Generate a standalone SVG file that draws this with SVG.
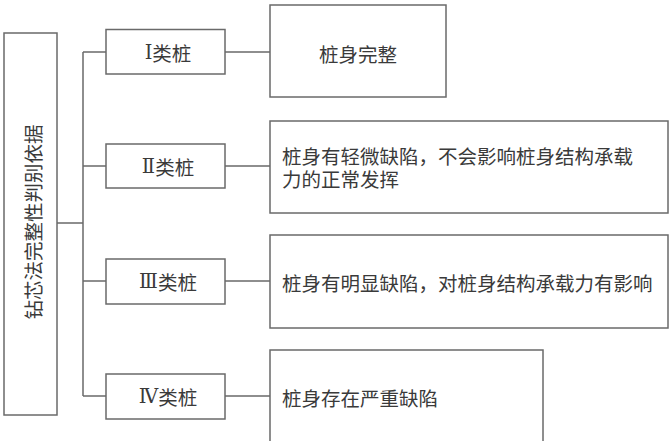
<svg xmlns="http://www.w3.org/2000/svg" width="669" height="441" viewBox="0 0 669 441">
<style>
.box{fill:#fff;stroke:#6a6a6a;stroke-width:1.5}
.ln{fill:none;stroke:#6a6a6a;stroke-width:1.5}
.t{font-family:"Noto Sans CJK SC","Noto Sans",sans-serif;font-size:19.5px;fill:#3a3a3a}
.c{text-anchor:middle;dominant-baseline:central}
.r{font-family:"Liberation Serif","DejaVu Serif","Noto Sans CJK SC",serif}
</style>
<rect width="669" height="441" fill="#fff"/>
<g id="connectors">
<path class="ln" d="M57 223H83M83 52V396M83 52H106M83 166H106M83 281H106M83 396H106"/>
<path class="ln" d="M225 52H270M225 166H270M225 281H270M225 396H270"/>
</g>
<g id="root">
<rect class="box" x="4" y="33" width="53" height="382"/>
<text class="t c" transform="translate(32 222) rotate(-90)">钻芯法完整性判别依据</text>
</g>
<g id="c1">
<rect class="box" x="106" y="29.5" width="119" height="44.5"/>
<text class="t c" x="168" y="52"><tspan class="r">Ⅰ</tspan>类桩</text>
</g>
<g id="c2">
<rect class="box" x="106" y="144" width="119" height="44"/>
<text class="t c" x="168" y="166"><tspan class="r">Ⅱ</tspan>类桩</text>
</g>
<g id="c3">
<rect class="box" x="106" y="259" width="119" height="45"/>
<text class="t c" x="168" y="281"><tspan class="r">Ⅲ</tspan>类桩</text>
</g>
<g id="c4">
<rect class="box" x="106" y="374" width="119" height="45"/>
<text class="t c" x="168" y="396"><tspan class="r">Ⅳ</tspan>类桩</text>
</g>
<g id="d1">
<rect class="box" x="270" y="5" width="176" height="92"/>
<text class="t c" x="358" y="53">桩身完整</text>
</g>
<g id="d2">
<rect class="box" x="270" y="121" width="398" height="92"/>
<text class="t"><tspan x="282" y="164">桩身有轻微缺陷，不会影响桩身结构承载</tspan><tspan x="282" y="187">力的正常发挥</tspan></text>
</g>
<g id="d3">
<rect class="box" x="270" y="235" width="398" height="93"/>
<text class="t" x="282" y="282" dominant-baseline="central">桩身有明显缺陷，对桩身结构承载力有影响</text>
</g>
<g id="d4">
<rect class="box" x="270" y="350" width="273" height="100"/>
<text class="t" x="282" y="397" dominant-baseline="central">桩身存在严重缺陷</text>
</g>
</svg>
